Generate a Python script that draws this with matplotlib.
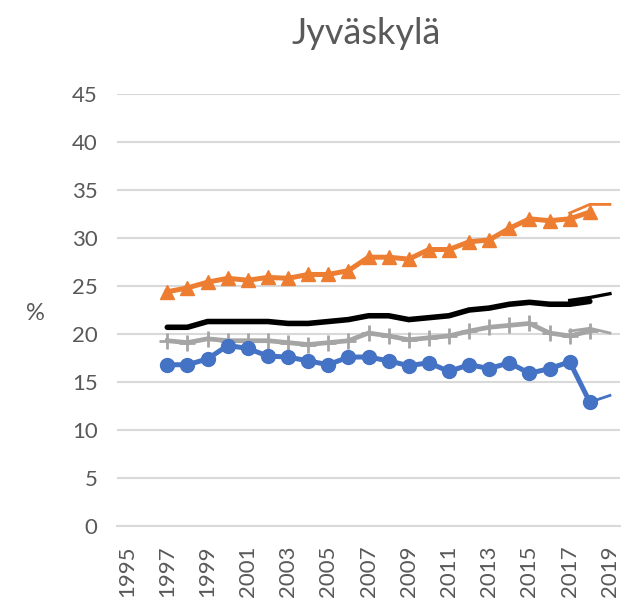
import matplotlib
matplotlib.use("Agg")
import matplotlib.pyplot as plt
import numpy as np

# main series 1997-2018 (markers), second series 2017/2018-2019 (thin, no markers)
years = list(range(1997, 2019))
blue = [16.8, 16.8, 17.4, 18.8, 18.5, 17.7, 17.6, 17.2, 16.8, 17.6, 17.6, 17.2,
        16.7, 17.0, 16.1, 16.8, 16.4, 17.0, 15.9, 16.4, 17.1, 12.9]
orange = [24.4, 24.8, 25.4, 25.8, 25.6, 25.9, 25.8, 26.2, 26.2, 26.6, 28.0, 28.0,
          27.8, 28.8, 28.8, 29.6, 29.8, 31.0, 32.0, 31.8, 32.0, 32.7]
black = [20.7, 20.7, 21.3, 21.3, 21.3, 21.3, 21.1, 21.1, 21.3, 21.5, 21.9, 21.9,
         21.5, 21.7, 21.9, 22.5, 22.7, 23.1, 23.3, 23.1, 23.1, 23.4]
gray = [19.3, 19.1, 19.5, 19.3, 19.3, 19.3, 19.1, 18.9, 19.1, 19.3, 20.1, 19.8,
        19.4, 19.6, 19.8, 20.3, 20.7, 20.9, 21.1, 20.1, 19.8, 20.3]

new_years = [2017, 2018, 2019]
orange_new = [32.6, 33.5, 33.5]
black_new = [23.5, 23.8, 24.2]
gray_new = [20.3, 20.6, 20.1]
blue_new_years = [2018, 2019]
blue_new = [12.9, 13.6]

tick_years = list(range(1995, 2020, 2))

C_BLUE = "#4472C4"
C_ORANGE = "#ED7D31"
C_GRAY = "#A5A5A5"
C_TEXT = "#595959"

plt.rcParams['font.family'] = ['Lato', 'DejaVu Sans']

fig = plt.figure(figsize=(6.26, 6.06), dpi=100)
ax = fig.add_axes([117 / 626, 1 - 526 / 606, (620 - 117) / 626, (526 - 94) / 606])

# thin lines (new series)
ax.plot(new_years, orange_new, color=C_ORANGE, lw=2, zorder=3)
ax.plot(new_years, black_new, color="black", lw=2.4, zorder=3)
ax.plot(new_years, gray_new, color=C_GRAY, lw=2, zorder=3)
ax.plot(blue_new_years, blue_new, color=C_BLUE, lw=2, zorder=3)

# main series
ax.plot(years, orange, color=C_ORANGE, lw=3.6, marker="^", ms=10, zorder=4)
ax.plot(years, black, color="black", lw=4, solid_capstyle="round",
        solid_joinstyle="round", zorder=4)
ax.plot(years, gray, color=C_GRAY, lw=3.4, marker="+", ms=11, mew=2, zorder=4)
ax.plot(years, blue, color=C_BLUE, lw=3.6, marker="o", ms=10, zorder=4)

ax.set_xlim(1994.5, 2019.5)
ax.set_ylim(0, 45)
ax.set_yticks(range(0, 50, 5))
ax.set_xticks(tick_years)
ax.set_xticklabels([str(y) for y in tick_years], rotation=90)
ax.tick_params(axis="both", length=0, labelsize=16, labelcolor=C_TEXT)
ax.tick_params(axis="y", pad=14)
ax.tick_params(axis="x", pad=14)

ax.grid(axis="y", color="#D9D9D9", lw=1.5)
ax.set_axisbelow(True)
for s in ["top", "right", "left"]:
    ax.spines[s].set_visible(False)
ax.spines["bottom"].set_color("#D9D9D9")
ax.spines["bottom"].set_linewidth(1.5)

fig.text(366 / 626, 1 - 33 / 606, "Jyväskylä", ha="center", va="center",
         fontsize=26, color=C_TEXT)
fig.text(35 / 626, 1 - 313 / 606, "%", ha="center", va="center",
         fontsize=17, color=C_TEXT)

fig.savefig("out.png", dpi=100)
